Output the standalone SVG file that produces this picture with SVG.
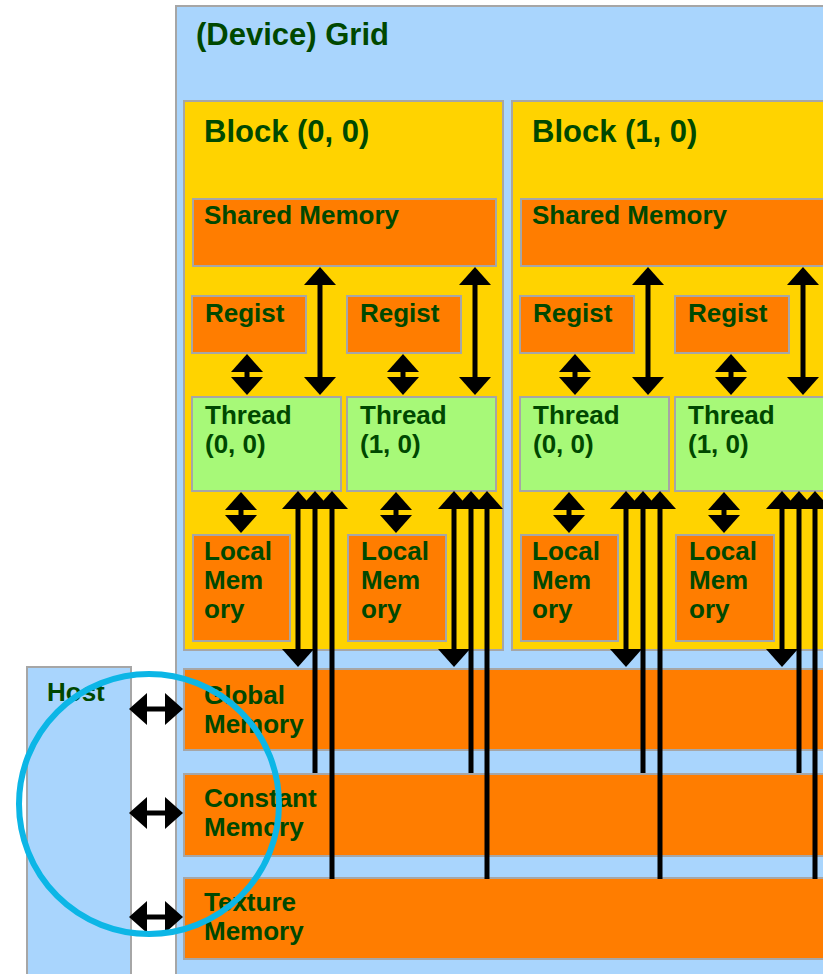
<svg xmlns="http://www.w3.org/2000/svg" width="823" height="974" viewBox="0 0 823 974">
<defs>
<style>
.box{stroke:#a6a6a6;stroke-width:2}
.grid{fill:#a9d5fd}
.blk{fill:#ffd300}
.mem{fill:#ff7d00}
.thr{fill:#a7f978}
.t{font-family:"Liberation Sans",Arial,sans-serif;font-weight:bold;fill:#004800;font-size:26px}
.h{font-size:31px}
.c{stroke:#000;stroke-width:5;fill:none}
.d{marker-start:url(#ah);marker-end:url(#ah)}
.s{marker-start:url(#ah)}
</style>
<marker id="ah" viewBox="0 0 18 32" markerWidth="18" markerHeight="32" markerUnits="userSpaceOnUse" refX="1" refY="16" orient="auto-start-reverse"><path d="M0,0 L18,16 L0,32 z" fill="#000"/></marker>
</defs>
<rect width="823" height="974" fill="#fff"/>
<g id="grid"><rect class="box grid" x="176" y="6" width="700" height="1000"/><text class="t h" x="196" y="45">(Device) Grid</text></g>
<g id="host"><rect class="box grid" x="27" y="667" width="104" height="340"/><text class="t" x="47" y="701">Host</text></g>
<g id="block00"><rect class="box blk" x="184" y="101" width="319" height="549"/><text class="t h" x="204" y="142">Block (0, 0)</text></g>
<g id="block10"><rect class="box blk" x="512" y="101" width="319" height="549"/><text class="t h" x="532" y="142">Block (1, 0)</text></g>
<g id="shared00"><rect class="box mem" x="193" y="199" width="303" height="67"/><text class="t" x="204" y="224">Shared Memory</text></g>
<g id="shared10"><rect class="box mem" x="521" y="199" width="303" height="67"/><text class="t" x="532" y="224">Shared Memory</text></g>
<g id="reg00_0"><rect class="box mem" x="192" y="296" width="114" height="57"/><text class="t" x="205" y="322">Regist</text></g>
<g id="reg00_1"><rect class="box mem" x="347" y="296" width="114" height="57"/><text class="t" x="360" y="322">Regist</text></g>
<g id="reg10_0"><rect class="box mem" x="520" y="296" width="114" height="57"/><text class="t" x="533" y="322">Regist</text></g>
<g id="reg10_1"><rect class="box mem" x="675" y="296" width="114" height="57"/><text class="t" x="688" y="322">Regist</text></g>
<g id="thr00_0"><rect class="box thr" x="192" y="397" width="149" height="94"/><text class="t" x="205" y="424">Thread</text><text class="t" x="205" y="453">(0, 0)</text></g>
<g id="thr00_1"><rect class="box thr" x="347" y="397" width="149" height="94"/><text class="t" x="360" y="424">Thread</text><text class="t" x="360" y="453">(1, 0)</text></g>
<g id="thr10_0"><rect class="box thr" x="520" y="397" width="149" height="94"/><text class="t" x="533" y="424">Thread</text><text class="t" x="533" y="453">(0, 0)</text></g>
<g id="thr10_1"><rect class="box thr" x="675" y="397" width="149" height="94"/><text class="t" x="688" y="424">Thread</text><text class="t" x="688" y="453">(1, 0)</text></g>
<g id="loc00_0"><rect class="box mem" x="193" y="535" width="97" height="106"/><text class="t" x="204" y="560">Local</text><text class="t" x="204" y="589">Mem</text><text class="t" x="204" y="618">ory</text></g>
<g id="loc00_1"><rect class="box mem" x="348" y="535" width="98" height="106"/><text class="t" x="361" y="560">Local</text><text class="t" x="361" y="589">Mem</text><text class="t" x="361" y="618">ory</text></g>
<g id="loc10_0"><rect class="box mem" x="521" y="535" width="97" height="106"/><text class="t" x="532" y="560">Local</text><text class="t" x="532" y="589">Mem</text><text class="t" x="532" y="618">ory</text></g>
<g id="loc10_1"><rect class="box mem" x="676" y="535" width="98" height="106"/><text class="t" x="689" y="560">Local</text><text class="t" x="689" y="589">Mem</text><text class="t" x="689" y="618">ory</text></g>
<g id="global"><rect class="box mem" x="184" y="669" width="700" height="81"/><text class="t" x="204" y="704">Global</text><text class="t" x="204" y="733">Memory</text></g>
<g id="constant"><rect class="box mem" x="184" y="774" width="700" height="82"/><text class="t" x="204" y="807">Constant</text><text class="t" x="204" y="836">Memory</text></g>
<g id="texture"><rect class="box mem" x="184" y="878" width="700" height="81"/><text class="t" x="204" y="911">Texture</text><text class="t" x="204" y="940">Memory</text></g>
<g id="connectors">
<line class="c d" x1="247" y1="371" x2="247" y2="378"/>
<line class="c d" x1="403" y1="371" x2="403" y2="378"/>
<line class="c d" x1="575" y1="371" x2="575" y2="378"/>
<line class="c d" x1="731" y1="371" x2="731" y2="378"/>
<line class="c d" x1="320" y1="284" x2="320" y2="378"/>
<line class="c d" x1="475" y1="284" x2="475" y2="378"/>
<line class="c d" x1="648" y1="284" x2="648" y2="378"/>
<line class="c d" x1="803" y1="284" x2="803" y2="378"/>
<line class="c d" x1="241" y1="509" x2="241" y2="516"/>
<line class="c d" x1="396" y1="509" x2="396" y2="516"/>
<line class="c d" x1="569" y1="509" x2="569" y2="516"/>
<line class="c d" x1="724" y1="509" x2="724" y2="516"/>
<line class="c d" x1="298" y1="508" x2="298" y2="650"/>
<line class="c d" x1="454" y1="508" x2="454" y2="650"/>
<line class="c d" x1="626" y1="508" x2="626" y2="650"/>
<line class="c d" x1="782" y1="508" x2="782" y2="650"/>
<line class="c s" x1="315" y1="508" x2="315" y2="773"/>
<line class="c s" x1="471" y1="508" x2="471" y2="773"/>
<line class="c s" x1="643" y1="508" x2="643" y2="773"/>
<line class="c s" x1="799" y1="508" x2="799" y2="773"/>
<line class="c s" x1="332" y1="508" x2="332" y2="879"/>
<line class="c s" x1="487" y1="508" x2="487" y2="879"/>
<line class="c s" x1="660" y1="508" x2="660" y2="879"/>
<line class="c s" x1="815" y1="508" x2="815" y2="879"/>
<line class="c d" x1="146" y1="709" x2="166" y2="709"/>
<line class="c d" x1="146" y1="813" x2="166" y2="813"/>
<line class="c d" x1="146" y1="917" x2="166" y2="917"/>
</g>
<g id="highlight"><circle cx="149" cy="804" r="130" fill="none" stroke="#0cb6e6" stroke-width="6"/></g>
</svg>
